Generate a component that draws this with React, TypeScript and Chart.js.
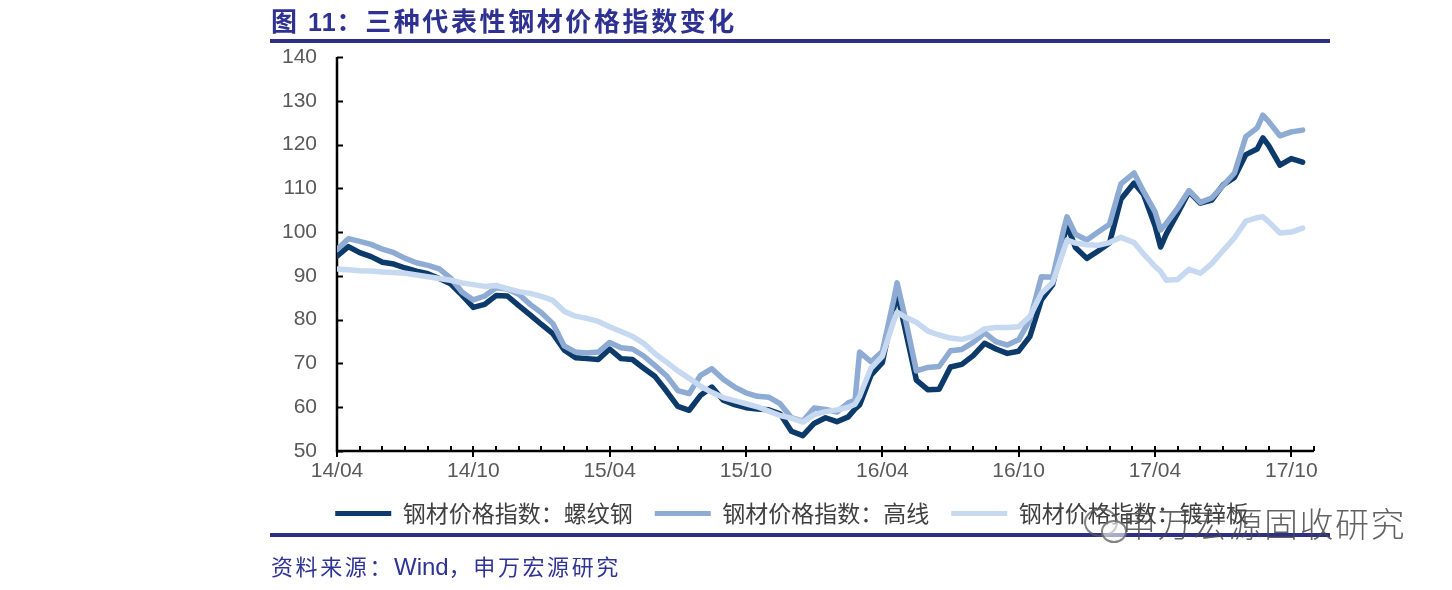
import React, { useEffect, useRef } from 'react';
import { Chart, registerables } from 'chart.js';

Chart.register(...registerables);

// x positions in months since 2014-04
const months = [
  0, 0.5, 1, 1.5, 2, 2.5, 3, 3.5, 4, 4.5,
  5, 5.5, 6, 6.5, 7, 7.5, 8, 8.5, 9, 9.5,
  10, 10.5, 11, 11.5, 12, 12.5, 13, 13.5, 14, 14.5,
  15, 15.5, 16, 16.5, 17, 17.5, 18, 18.5, 19, 19.5,
  20, 20.5, 21, 21.5, 22, 22.5, 22.8, 23, 23.5, 24,
  24.5, 24.65, 25, 25.5, 26, 26.5, 27, 27.5, 28, 28.5,
  29, 29.5, 30, 30.5, 31, 31.5, 32, 32.13, 32.5, 33,
  33.5, 34, 34.5, 35.08, 35.5, 36, 36.25, 36.5, 37, 37.5,
  38, 38.5, 39, 39.5, 40, 40.5, 40.75, 41, 41.5, 42,
  42.5,
];

// 钢材价格指数：螺纹钢
const rebar = [
  94.5, 96.7, 95.3, 94.4, 93.1, 92.7, 91.8, 91.1, 90.5, 89.4,
  88.2, 85.6, 82.8, 83.5, 85.5, 85.4, 83.2, 81.1, 78.9, 76.8,
  73.1, 71.3, 71.1, 70.9, 73.3, 71.1, 70.9, 68.9, 67.0, 63.7,
  60.2, 59.3, 62.7, 64.6, 61.6, 60.6, 59.9, 59.6, 59.4, 58.5,
  54.5, 53.5, 56.3, 57.6, 56.7, 57.8, 59.6, 60.5, 67.3, 70.2,
  82.5, 86.1, 78.0, 66.2, 64.0, 64.1, 69.2, 69.8, 71.8, 74.6,
  73.3, 72.3, 72.8, 76.2, 84.5, 88.0, 99.0, 101.6, 96.5, 94.0,
  95.7, 97.5, 107.5, 111.2, 108.6, 101.5, 96.6, 99.6, 104.3, 109.2,
  106.6, 107.3, 110.8, 112.5, 117.7, 119.0, 121.5, 119.8, 115.3, 116.8,
  116.0,
];

// 钢材价格指数：高线
const wire = [
  96.0, 98.5, 97.9, 97.2, 96.1, 95.3, 94.0, 93.0, 92.4, 91.6,
  89.5, 86.3, 84.5, 85.4, 87.3, 87.0, 85.8, 83.5, 81.6, 79.1,
  74.0, 72.6, 72.4, 72.6, 74.8, 73.6, 73.3, 71.7, 69.5, 67.2,
  63.8, 63.1, 67.3, 68.8, 66.4, 64.6, 63.3, 62.5, 62.3, 60.8,
  57.6, 56.8, 59.8, 59.5, 58.9, 61.0, 61.6, 72.6, 70.4, 72.7,
  84.5, 88.4, 80.6, 68.3, 69.1, 69.3, 72.9, 73.2, 74.8, 77.0,
  75.0, 74.2, 75.4, 80.0, 89.8, 89.7, 101.0, 103.5, 99.5, 98.2,
  100.0, 101.8, 111.0, 113.5, 109.3, 104.7, 100.5, 102.0, 105.5, 109.5,
  106.8, 107.8, 110.6, 113.5, 121.8, 123.8, 126.7, 125.3, 122.0, 122.9,
  123.3,
];

// 钢材价格指数：镀锌板
const galv = [
  91.6, 91.4, 91.2, 91.1, 90.9, 90.8, 90.6, 90.2, 89.8, 89.4,
  89.0, 88.4, 88.0, 87.6, 87.8, 87.1, 86.4, 86.0, 85.3, 84.4,
  81.9, 80.8, 80.3, 79.6, 78.4, 77.3, 76.2, 74.6, 72.2, 70.3,
  68.3, 66.6, 64.8, 63.4, 62.2, 61.5, 60.8, 60.1, 59.1, 58.1,
  57.5, 56.6, 58.3, 59.0, 59.4, 60.0, 60.7, 62.5, 68.9, 71.6,
  79.6, 81.7, 80.6, 79.4, 77.4, 76.5, 75.8, 75.5, 76.2, 77.9,
  78.2, 78.2, 78.4, 80.8, 86.0, 88.5, 96.1, 98.2, 97.5, 97.1,
  97.0, 97.6, 98.8, 97.6, 95.0, 92.2, 91.0, 89.0, 89.2, 91.5,
  90.6, 92.8, 95.8, 98.7, 102.5, 103.3, 103.5, 102.4, 99.8, 100.0,
  100.9,
];

const seriesNames = ['钢材价格指数：螺纹钢', '钢材价格指数：高线', '钢材价格指数：镀锌板'];
const seriesColors = ['#0B3A6B', '#8EABD3', '#C6D9F0'];
const xTickLabels = ['14/04', '14/10', '15/04', '15/10', '16/04', '16/10', '17/04', '17/10'];
const monthsPerLabel = 6;
const xMin = 0;
const xMax = 43;
const yMin = 50;
const yMax = 140;
const yStep = 10;

const titleText = '三种代表性钢材价格指数变化';
const sourceText = ['资料来源：', 'Wind', '，申万宏源研究'];
const watermarkText = '申万宏源固收研究';

const axisPlugin = {
  id: 'axisMarks',
  beforeDatasetsDraw(chart: any) {
    const { ctx, scales } = chart;
    const x = scales.x;
    const y = scales.y;
    const x0 = x.getPixelForValue(xMin);
    const xe = x.getPixelForValue(xMax);
    const yb = y.getPixelForValue(yMin);
    const yt = y.getPixelForValue(yMax);
    ctx.save();
    ctx.strokeStyle = '#000000';
    ctx.lineWidth = 2.5;
    ctx.lineCap = 'butt';
    ctx.beginPath();
    ctx.moveTo(x0, yt);
    ctx.lineTo(x0, yb);
    ctx.lineTo(xe, yb);
    ctx.stroke();
    ctx.lineWidth = 2;
    ctx.beginPath();
    for (const t of y.ticks) {
      const py = Math.round(y.getPixelForValue(t.value)) + 0.5;
      ctx.moveTo(x0, py);
      ctx.lineTo(x0 + 6, py);
    }
    for (const t of x.ticks) {
      const px = Math.round(x.getPixelForValue(t.value));
      const major = t.value % monthsPerLabel === 0;
      ctx.moveTo(px, yb - 5);
      ctx.lineTo(px, major ? yb + 6 : yb);
    }
    ctx.stroke();
    ctx.restore();
  },
};

export default function App() {
  const canvasRef = useRef<HTMLCanvasElement | null>(null);

  useEffect(() => {
    document.body.style.margin = '0';
    const canvas = canvasRef.current;
    if (!canvas) return;
    const series = [rebar, wire, galv];
    const chart = new Chart(canvas, {
      type: 'line',
      data: {
        datasets: series.map((vals, i) => ({
          label: seriesNames[i],
          data: months.map((m, j) => ({ x: m, y: vals[j] })),
          borderColor: seriesColors[i],
          backgroundColor: seriesColors[i],
          borderWidth: 5.5,
          pointRadius: 0,
          tension: 0,
          fill: false,
          order: 3 - i,
          borderJoinStyle: 'round',
          borderCapStyle: 'round',
        })),
      },
      options: {
        animation: false,
        responsive: false,
        devicePixelRatio: 1,
        layout: { padding: { left: 270, right: 138, top: 57, bottom: 55 } },
        plugins: {
          tooltip: { enabled: false },
          legend: {
            position: 'bottom',
            labels: {
              boxWidth: 56,
              boxHeight: 5,
              padding: 22,
              color: '#404040',
              font: { family: "'Noto Sans CJK SC', sans-serif", size: 23 },
              generateLabels: (c: any) =>
                c.data.datasets.map((ds: any, i: number) => ({
                  text: ds.label,
                  fillStyle: ds.borderColor,
                  strokeStyle: ds.borderColor,
                  lineWidth: 0,
                  hidden: false,
                  datasetIndex: i,
                  fontColor: '#404040',
                })),
            },
          },
        },
        scales: {
          x: {
            type: 'linear',
            min: xMin,
            max: xMax,
            grid: { display: false, drawTicks: false },
            border: { display: false },
            ticks: {
              stepSize: 1,
              autoSkip: false,
              maxRotation: 0,
              padding: 8,
              color: '#595959',
              font: { family: "'Liberation Sans', Arial, sans-serif", size: 21 },
              callback: (v: any) => {
                const n = Number(v);
                return n % monthsPerLabel === 0 ? xTickLabels[n / monthsPerLabel] ?? '' : '';
              },
            },
            afterFit: (s: any) => {
              s.height = 29;
            },
          },
          y: {
            min: yMin,
            max: yMax,
            grid: { display: false, drawTicks: false },
            border: { display: false },
            ticks: {
              stepSize: yStep,
              padding: 20,
              color: '#595959',
              font: { family: "'Liberation Sans', Arial, sans-serif", size: 21 },
            },
            afterFit: (s: any) => {
              s.width = 67;
            },
          },
        },
      } as any,
      plugins: [axisPlugin],
    });
    return () => chart.destroy();
  }, []);

  const navy = '#2E3192';
  return (
    <div style={{ position: 'absolute', left: 0, top: 0, width: 1452, height: 590, background: '#ffffff', overflow: 'hidden' }}>
      <canvas ref={canvasRef} width={1452} height={590} style={{ position: 'absolute', left: 0, top: 0, width: 1452, height: 590 }} />
      <div
        style={{
          position: 'absolute', left: 271, top: 5, fontSize: 26, fontWeight: 700, color: navy,
          letterSpacing: '2.6px', fontFamily: "'Noto Sans CJK SC', sans-serif", lineHeight: '30px', whiteSpace: 'pre',
        }}
      >
        图 <span style={{ fontFamily: "'Liberation Sans', Arial, sans-serif", fontSize: 25, letterSpacing: '1px' }}>11</span>：{titleText}
      </div>
      <div style={{ position: 'absolute', left: 270, top: 39, width: 1060, height: 4, background: '#2E2F86' }} />
      <div style={{ position: 'absolute', left: 270, top: 533, width: 1060, height: 4, background: '#2E2F86' }} />
      <div
        style={{
          position: 'absolute', left: 271, top: 550, fontSize: 22, color: '#2F3396', letterSpacing: '2.6px',
          fontFamily: "'Noto Sans CJK SC', sans-serif", lineHeight: '30px', whiteSpace: 'pre',
        }}
      >
        {sourceText[0]}
        <span style={{ fontFamily: "'Liberation Sans', Arial, sans-serif", fontSize: 24, letterSpacing: '0px' }}>{sourceText[1]}</span>
        {sourceText[2]}
      </div>
      <div
        style={{
          position: 'absolute', left: 1084, top: 508, width: 30, height: 25, borderRadius: '50%',
          border: '2px solid rgba(90,90,90,0.75)',
        }}
      />
      <div
        style={{
          position: 'absolute', left: 1101, top: 520, width: 22, height: 19, borderRadius: '50%',
          border: '2px solid rgba(90,90,90,0.75)', background: 'rgba(255,255,255,0.6)',
        }}
      />
      <div
        style={{
          position: 'absolute', left: 1122, top: 503, fontSize: 34, color: 'rgba(70,70,70,0.85)', letterSpacing: '1.5px',
          fontFamily: "'Noto Sans CJK SC', sans-serif", fontWeight: 300, lineHeight: '40px', whiteSpace: 'pre',
        }}
      >
        {watermarkText}
      </div>
    </div>
  );
}
